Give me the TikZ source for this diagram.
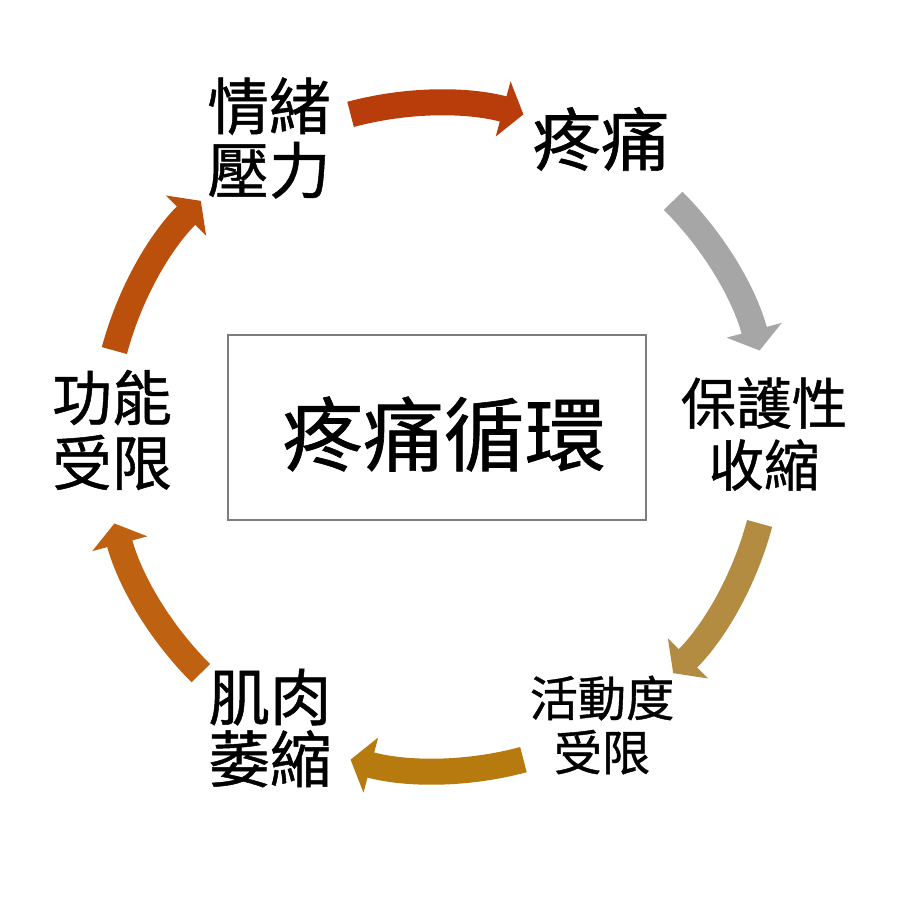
\documentclass[tikz,border=0pt]{standalone}
\usepackage{fontspec}
\newfontfamily\cjk[FakeBold=0.8]{Noto Sans CJK TC}
\usetikzlibrary{arrows.meta}
\definecolor{flowA}{RGB}{185,61,10}
\definecolor{flowB}{RGB}{166,166,166}
\definecolor{flowC}{RGB}{179,140,66}
\definecolor{flowD}{RGB}{183,122,14}
\definecolor{flowE}{RGB}{190,98,18}
\definecolor{flowF}{RGB}{186,80,12}
\definecolor{framegray}{RGB}{125,125,125}
\begin{document}
\begin{tikzpicture}
  [x=0.01cm,y=0.01cm,
   stage/.style={align=center,inner sep=0pt},
   flow/.style={line width=0.26cm,-{Triangle[length=0.21cm,width=0.56cm]}}]
  \useasboundingbox (-437,-463) rectangle (463,437);
  \node[draw=framegray,line width=0.5pt,minimum width=4.17cm,minimum height=1.85cm] (frame) at (0,9.5) {};
  \node[font={\cjk\fontsize{23}{26}\selectfont}] (title) at (7,3) {疼痛循環};
  \node[stage,font={\cjk\fontsize{17.5}{18.2}\selectfont}] (stress) at (-168,299) {情緒\\壓力};
  \node[stage,font={\cjk\fontsize{19.5}{22}\selectfont}] (pain) at (164,298) {疼痛};
  \node[stage,font={\cjk\fontsize{15.8}{17.6}\selectfont}] (guard) at (327,3) {保護性\\收縮};
  \node[stage,font={\cjk\fontsize{13.7}{15.4}\selectfont}] (motion) at (165,-288) {活動度\\受限};
  \node[stage,font={\cjk\fontsize{17.5}{17.6}\selectfont}] (atrophy) at (-167,-291) {肌肉\\萎縮};
  \node[stage,font={\cjk\fontsize{17}{18.5}\selectfont}] (func) at (-325,7) {功能\\受限};
  \foreach \a/\col [count=\i] in {105/flowA,45/flowB,-15/flowC,-75/flowD,-135/flowE,165/flowF}
  {
    \coordinate (t\i) at (\a:334);
    \coordinate (h\i) at (\a-30:334);
    \draw[flow,\col] (t\i) to[bend left=15,looseness=.87] (h\i);
  }
\end{tikzpicture}
\end{document}
